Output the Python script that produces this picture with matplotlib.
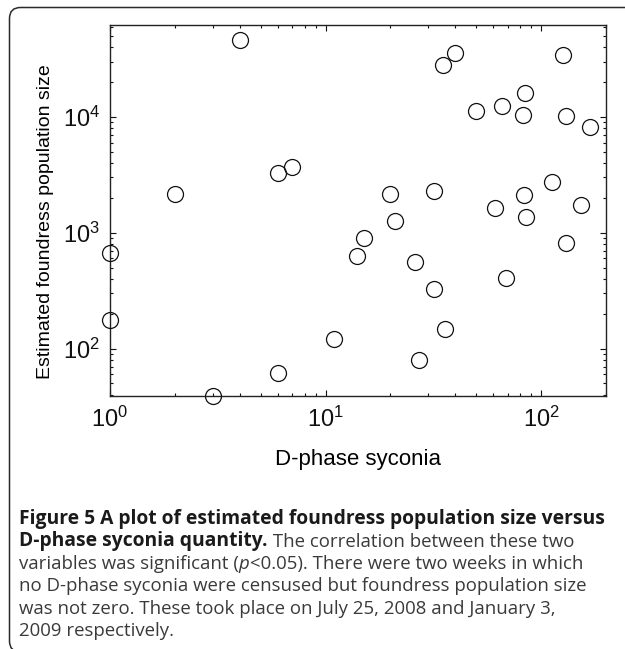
import matplotlib
matplotlib.use('Agg')
import matplotlib.pyplot as plt
from matplotlib.patches import FancyBboxPatch
from matplotlib.ticker import LogLocator, NullFormatter

# D-phase syconia count vs estimated foundress population size
syconia = [1, 1, 2, 3, 4, 6, 6, 7, 11, 14, 15, 20, 21, 26, 27, 32, 32, 35,
           36, 40, 50, 61, 66, 69, 82, 83, 84, 85, 112, 126, 130, 131, 153,
           169]
foundress = [670, 175, 2160, 39, 46000, 3300, 61, 3670, 120, 627, 895, 2150,
             1250, 556, 80, 2270, 324, 28000, 148, 35600, 11200, 1630, 12400,
             405, 10300, 2100, 16200, 1360, 2750, 34200, 820, 10100, 1720,
             8100]

xlabel = 'D-phase syconia'
ylabel = 'Estimated foundress population size'

caption = [
    [('Figure 5 A plot of estimated foundress population size versus', 'bold', 'normal')],
    [('D-phase syconia quantity.', 'bold', 'normal'),
     (' The correlation between these two', 'normal', 'normal')],
    [('variables was significant (', 'normal', 'normal'),
     ('p', 'normal', 'italic'),
     ('<0.05). There were two weeks in which', 'normal', 'normal')],
    [('no D-phase syconia were censused but foundress population size', 'normal', 'normal')],
    [('was not zero. These took place on July 25, 2008 and January 3,', 'normal', 'normal')],
    [('2009 respectively.', 'normal', 'normal')],
]

W, H = 625, 649
plt.rcParams['font.family'] = ['Liberation Sans', 'DejaVu Sans']
plt.rcParams['mathtext.default'] = 'regular'

fig = plt.figure(figsize=(W / 100, H / 100), dpi=100)
fig.patch.set_facecolor('white')

# rounded frame around the figure (cut off at right and bottom)
frame = FancyBboxPatch((9.5, -3), 640, H - 7.5 + 3,
                       boxstyle='round,pad=0,rounding_size=11',
                       transform=None, facecolor='none',
                       edgecolor='#2b2b2b', linewidth=1.1)
fig.patches.append(frame)

ax = fig.add_axes([110 / W, 1 - 396 / H, 496 / W, 371 / H])
ax.plot(syconia, foundress, 'o', ms=11.5, mfc='none', mec='#111111',
        mew=0.9, clip_on=False, zorder=3)

ax.set_xscale('log')
ax.set_yscale('log')
ax.set_xlim(1, 200)
ax.set_ylim(39, 6.2e4)

for axis in (ax.xaxis, ax.yaxis):
    axis.set_major_locator(LogLocator(base=10))
    axis.set_minor_locator(LogLocator(base=10, subs=range(2, 10)))
    axis.set_minor_formatter(NullFormatter())

ax.tick_params(which='both', direction='in', top=True, right=True,
               colors='#111111', width=0.8)
ax.tick_params(which='major', length=4, labelsize=17)
ax.tick_params(which='minor', length=2.2)
ax.tick_params(axis='x', which='major', pad=8)
ax.tick_params(axis='y', which='major', pad=7)
for sp in ax.spines.values():
    sp.set_linewidth(1.0)
    sp.set_color('#222222')

ax.set_xlabel(xlabel, fontsize=16)
ax.set_ylabel(ylabel, fontsize=14)
ax.xaxis.set_label_coords(0.5, -0.143)
ax.yaxis.set_label_coords(-0.113, 0.47)

# caption, line by line with mixed styles
x0 = 19 / W
first_center = 517
spacing = 22.4
for i, pieces in enumerate(caption):
    yb = 1 - (first_center + i * spacing + 7) / H
    prev = None
    for text, weight, style in pieces:
        if weight == 'bold':
            color, size = '#1a1a1a', 13.9
        else:
            color, size = '#3a3a3a', 13.4
        kw = dict(fontsize=size, fontweight=weight, fontstyle=style,
                  family='Open Sans', color=color, ha='left')
        if prev is None:
            prev = fig.text(x0, yb, text, va='baseline', **kw)
        else:
            prev = ax.annotate(text, xy=(1, 0), xycoords=prev,
                               xytext=(0, 0), textcoords='offset points',
                               annotation_clip=False, va='bottom', **kw)

fig.savefig('out.png', dpi=100, facecolor='white')
